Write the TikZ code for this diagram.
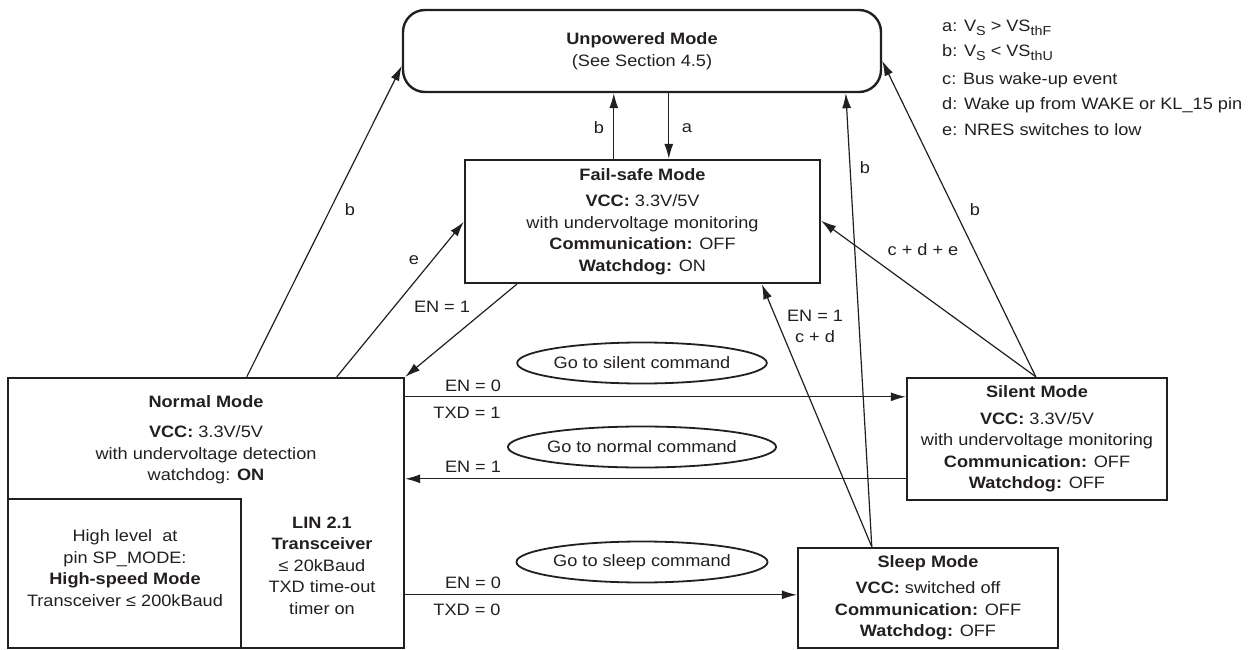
\documentclass[tikz,border=0pt]{standalone}
\usepackage{fontspec}
\setmainfont{Liberation Sans}[FakeStretch=1.1]
\usetikzlibrary{arrows.meta,calc,shapes.geometric}
\definecolor{ink}{RGB}{35,31,32}
\newcommand\mfs{\fontsize{16.5}{21.5}\selectfont}
\newcommand\lsub[1]{\raisebox{-4pt}{\fontsize{13}{13}\selectfont #1}}
\begin{document}
\begin{tikzpicture}[x=1pt,y=-1pt,
  every node/.style={font=\mfs, text=ink},
  box/.style={draw=ink, line width=2.4pt, inner sep=0pt, align=center},
  txt/.style={inner sep=0pt, align=center},
  conn/.style={draw=ink, line width=1.2pt, -{Latex[length=15pt,width=9pt]}},
  lbl/.style={inner sep=0pt, align=center},
  cmd/.style={draw=ink, ellipse, line width=1.8pt, minimum width=232pt, minimum height=41pt, inner sep=0pt},
  leg/.style={inner sep=0pt, anchor=west}
]
\useasboundingbox (0,0) rectangle (1259,650);

% boxes
\node[box, rounded corners=22pt, minimum width=478pt, minimum height=82pt] (unp) at (642,51)
  {\textbf{Unpowered Mode}\\(See Section 4.5)};
\node[box, minimum width=355pt, minimum height=123pt] (fs) at (642.5,221.5)
  {\textbf{Fail-safe Mode}\\[5pt]\textbf{VCC:} 3.3V/5V\\with undervoltage monitoring\\\textbf{Communication:} OFF\\\textbf{Watchdog:} ON};
\node[box, minimum width=260pt, minimum height=122pt] (silent) at (1037,439)
  {\textbf{Silent Mode}\\[5pt]\textbf{VCC:} 3.3V/5V\\with undervoltage monitoring\\\textbf{Communication:} OFF\\\textbf{Watchdog:} OFF};
\node[box, minimum width=260pt, minimum height=100pt] (sleep) at (928,598)
  {\textbf{Sleep Mode}\\[5pt]\textbf{VCC:} switched off\\\textbf{Communication:} OFF\\\textbf{Watchdog:} OFF};
\node[box, minimum width=396pt, minimum height=270pt] (normal) at (206,513) {};
\node[box, minimum width=233pt, minimum height=149pt] (hs) at (124.5,573.5) {};

\node[txt] (normtitle) at (206,402) {\textbf{Normal Mode}};
\node[txt] (normbody) at (206,455) {\textbf{VCC:} 3.3V/5V\\with undervoltage detection\\watchdog: \textbf{ON}};
\node[txt] (hstxt) at (125,568) {High level\ \ at\\pin SP\_MODE:\\\textbf{High-speed Mode}\\Transceiver ≤ 200kBaud};
\node[txt] (lintxt) at (322,565.5) {\textbf{LIN 2.1}\\\textbf{Transceiver}\\≤ 20kBaud\\TXD time-out\\timer on};

% command ellipses
\node[cmd] (gosilent) at (642,363) {Go to silent command};
\node[cmd] (gonormal) at (642,447) {Go to normal command};
\node[cmd] (gosleep) at (642,562) {Go to sleep command};

% horizontal connectors
\draw[conn] ($(normal.north east)+(0,20)$) -- ($(silent.north west)+(0,20)$);
\draw[conn] ($(silent.north west)+(0,102)$) -- ($(normal.north east)+(0,102)$);
\draw[conn] ($(normal.north east)+(0,218)$) -- ($(sleep.north west)+(0,48)$);

% diagonal connectors
\draw[conn] ($(normal.north west)+(240,0)$) -- ($(unp.north west)+(0,57)$);
\draw[conn] ($(normal.north west)+(330,0)$) -- ($(fs.north west)+(0,63)$);
\draw[conn] ($(fs.south west)+(53,0)$) -- (normal.north east);
\draw[conn] ($(sleep.north west)+(75,0)$) -- ($(fs.south west)+(298,0)$);
\draw[conn] ($(sleep.north west)+(75,0)$) -- ($(unp.south west)+(444,0)$);
\draw[conn] ($(silent.north west)+(130,0)$) -- ($(fs.north east)+(0,62)$);
\draw[conn] ($(silent.north west)+(130,0)$) -- ($(unp.north east)+(0,52)$);
\draw[conn] ($(fs.north west)+(150,0)$) -- ($(unp.south west)+(212,0)$);
\draw[conn] ($(unp.south west)+(267,0)$) -- ($(fs.north west)+(205,0)$);

% connector labels
\node[lbl] (l1) at (599,128) {b};
\node[lbl] (l2) at (687,128) {a};
\node[lbl] (l3) at (350,210) {b};
\node[lbl] (l4) at (414,260) {e};
\node[lbl] (l5) at (442,307) {EN = 1};
\node[lbl] (l6) at (815,326.5) {EN = 1\\c + d};
\node[lbl] (l7) at (865,168) {b};
\node[lbl] (l8) at (923,250) {c + d + e};
\node[lbl] (l9) at (975,210) {b};
\node[lbl] (l10) at (473,386) {EN = 0};
\node[lbl] (l11) at (467,413) {TXD = 1};
\node[lbl] (l12) at (473,467) {EN = 1};
\node[lbl] (l13) at (473,583) {EN = 0};
\node[lbl] (l14) at (467,610) {TXD = 0};

% legend
\node[leg] (lega) at (942,28) {a: V\lsub{S} > VS\lsub{thF}};
\node[leg] (legb) at (942,53) {b: V\lsub{S} < VS\lsub{thU}};
\node[leg] (legc) at (942,80) {c: Bus wake-up event};
\node[leg] (legd) at (942,105) {d: Wake up from WAKE or KL\_15 pin};
\node[leg] (lege) at (942,130) {e: NRES switches to low};
\end{tikzpicture}
\end{document}
